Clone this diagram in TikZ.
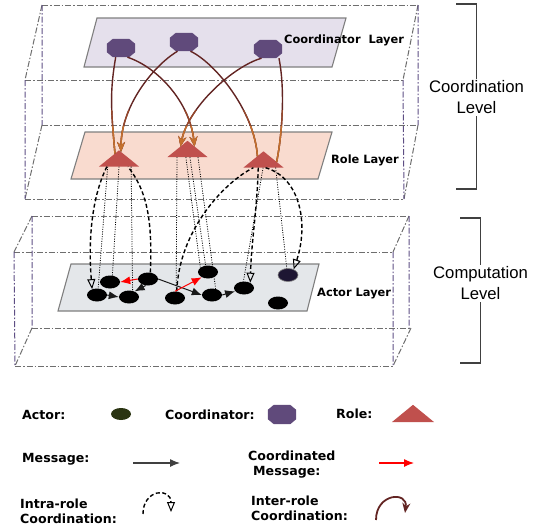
\documentclass[tikz,border=0pt]{standalone}
\usepackage{fontspec}
\setmainfont{DejaVu Sans}
\newfontfamily\levelfont{Liberation Sans}
\usetikzlibrary{shapes.geometric,arrows.meta,calc}

\definecolor{coordcol}{HTML}{604A7B}
\definecolor{rolecol}{HTML}{C0504D}
\definecolor{coordplane}{HTML}{E5E0EC}
\definecolor{roleplane}{HTML}{F9DBCF}
\definecolor{actorplane}{HTML}{E4E7EA}
\definecolor{planeline}{HTML}{7F7F7F}
\definecolor{boxgray}{HTML}{6E6E6E}
\definecolor{boxpurple}{HTML}{5E4E84}
\definecolor{interdark}{HTML}{632523}
\definecolor{intermid}{HTML}{96472A}
\definecolor{interlight}{HTML}{C4712E}
\definecolor{legendactor}{HTML}{2A3412}
\definecolor{actordark}{HTML}{1E1633}
\definecolor{msgcol}{HTML}{1A1A1A}

% coordinator -> role curves, drawn once per colour band
\newcommand\intercurves[1]{%
  \draw[inter,#1] (C1.240) .. controls +(-6,35) and +(-4,-45) .. ($(T1.north)!0.2!(T1.south west)$);
  \draw[inter,#1,interhead] (C1.-55) .. controls +(30,10) and +(-5,-45) .. ($(T2.north)!0.35!(T2.south east)$);
  \draw[inter,#1,interhead] (C2.235) .. controls +(-25,15) and +(0,-45) .. ($(T1.north)!0.1!(T1.south east)$);
  \draw[inter,#1] (C2.-55) .. controls +(25,12) and +(-3,-45) .. ($(T3.north)!0.3!(T3.south west)$);
  \draw[inter,#1,interhead] (C3.235) .. controls +(-28,8) and +(8,-40) .. ($(T2.north)!0.35!(T2.south west)$);
  \draw[inter,#1] (C3.-40) .. controls +(6,30) and +(6,-30) .. ($(T3.north)!0.65!(T3.south east)$);
}

\begin{document}
\begin{tikzpicture}[%
    x=1pt,y=-1pt,
    box/.style={draw=boxgray, line width=1, dash pattern=on 6pt off 2pt on 1.5pt off 2pt},
    boxside/.style={box, draw=boxpurple},
    plane/.style={draw=planeline, line width=1.1},
    coord/.style={minimum width=28, minimum height=18, inner sep=0},
    role/.style={minimum width=40, minimum height=16, inner sep=0},
    actor/.style={ellipse, fill=black, minimum width=20, minimum height=13, inner sep=0},
    msg/.style={draw=msgcol, line width=1, -{Latex[length=10pt,width=8pt]}},
    cmsg/.style={msg, draw=red},
    share/.style={line width=0.8, dash pattern=on 1pt off 1.4pt},
    intra/.style={line width=1.4, dash pattern=on 4pt off 2.5pt},
    intrahead/.style={intra, -{Triangle[open,length=10pt,width=8pt,line width=1pt]}},
    inter/.style={line width=1.4},
    interhead/.style={-{Stealth[length=10pt,width=8pt]}},
    layerlabel/.style={font=\bfseries\fontsize{11.4}{13}\selectfont, anchor=west, inner sep=0},
    legendlabel/.style={font=\bfseries\fontsize{12.6}{15}\selectfont, anchor=west, align=left, inner sep=0},
    level/.style={font=\levelfont\fontsize{16.7}{21}\selectfont, align=center, inner sep=2},
    bracket/.style={draw=black!75, line width=1.2}
  ]
    \useasboundingbox (0,0) rectangle (538,525);

    % coordination box
    \draw[box] (42,5) -- (418,5) (42,125) -- (418,125) (25,80) -- (403,80) (25,199) -- (404,199);
    \draw[box] (42,5) -- (25,80) (418,5) -- (403,80) (42,125) -- (25,199) (418,125) -- (404,199);
    \draw[boxside] (42,5) -- (42,125) (418,5) -- (418,125) (25,80) -- (25,199) (403,80) -- (404,199);
    % computation box
    \draw[box] (32,216) -- (409,216) (32,328) -- (411,328) (14,252) -- (393,252) (15,366) -- (393,366);
    \draw[box] (32,216) -- (14,252) (409,216) -- (393,252) (32,328) -- (15,366) (411,328) -- (393,366);
    \draw[boxside] (32,216) -- (32,328) (409,216) -- (409,328) (14,252) -- (15,366) (393,252) -- (393,366);

    % layers
    \draw[plane, fill=coordplane] (97,18) -- (346,18) -- (332,67) -- (84,67) -- cycle;
    \draw[plane, fill=roleplane] (85,132) -- (332,132) -- (318,179) -- (71,179) -- cycle;
    \draw[plane, fill=actorplane] (71,264) -- (319,264) -- (307,311) -- (58,311) -- cycle;

    \node[layerlabel] (lcl) at (284,40) {Coordinator\ \ Layer};
    \node[layerlabel] (lrl) at (331,160.5) {Role Layer};
    \node[layerlabel] (lal) at (317,294) {Actor Layer};

    \node[coord] (C1) at (121,48) {};
    \node[coord] (C2) at (184,42) {};
    \node[coord] (C3) at (268,49) {};

    \node[role] (T1) at (119,158.5) {};
    \node[role] (T2) at (187.5,149) {};
    \node[role] (T3) at (263.5,159.5) {};

    \node[actor] (a1) at (97,295) {};
    \node[actor] (a2) at (110,282) {};
    \node[actor] (a3) at (148,279) {};
    \node[actor] (a4) at (129,297) {};
    \node[actor] (a5) at (175,298) {};
    \node[actor] (a6) at (208,272) {};
    \node[actor] (a7) at (212,295) {};
    \node[actor] (a8) at (244,288) {};
    \node[actor, fill=actordark, draw=planeline, line width=0.6] (a9) at (288,275) {};
    \node[actor] (a10) at (278,303) {};

    % legend
    \node[legendlabel] (lactor) at (22,414.5) {Actor:};
    \node[actor, fill=legendactor, minimum height=12] (lact) at (121,414) {};
    \node[legendlabel] (lcoordt) at (165,414.5) {Coordinator:};
    \node[coord, minimum height=19] (lcoord) at (282,414.5) {};
    \node[legendlabel] (lrolet) at (336,414) {Role:};
    \node[role, minimum width=42, minimum height=17] (lrole) at (413,413.5) {};
    \node[legendlabel] (lmsg) at (22,459) {Message:};
    \node[legendlabel] (lcmsg) at (248,465) {Coordinated\\\hspace{5pt}Message:};
    \node[legendlabel] (lintra) at (20,511) {Intra-role\\Coordination:};
    \node[legendlabel] (linter) at (251,508) {Inter-role\\Coordination:};

    \foreach \tri in {T1,T2,T3,lrole}
      \fill[rolecol] (\tri.south west) -- (\tri.south east) -- (\tri.north) -- cycle;
    \foreach \oct in {C1,C2,C3,lcoord}
      \fill[coordcol] ($(\oct.north west)+(6,0)$) -- ($(\oct.north east)+(-6,0)$)
        -- ($(\oct.north east)+(0,5)$) -- ($(\oct.south east)+(0,-5)$)
        -- ($(\oct.south east)+(-6,0)$) -- ($(\oct.south west)+(6,0)$)
        -- ($(\oct.south west)+(0,-5)$) -- ($(\oct.north west)+(0,5)$) -- cycle;

    % role -> actor sharing
    \draw[share] ($(T1.south west)!0.22!(T1.south east)$) -- (a1.80);
    \draw[share] ($(T1.south west)!0.5!(T1.south east)$) -- (a2.70);
    \draw[share] ($(T1.south west)!0.8!(T1.south east)$) -- (a4.60);
    \draw[share] ($(T2.south west)!0.24!(T2.south east)$) -- (a5.80);
    \draw[share] ($(T2.south west)!0.46!(T2.south east)$) -- (a6.150);
    \draw[share] ($(T2.south west)!0.56!(T2.south east)$) -- (a6.110);
    \draw[share] ($(T2.south west)!0.76!(T2.south east)$) -- (a7.60);
    \draw[share] ($(T3.south west)!0.49!(T3.south east)$) -- (a8.95);
    \draw[share] ($(T3.south west)!0.8!(T3.south east)$) -- (a9.100);

    % intra-role coordination
    \draw[intra] (a3.70) .. controls +(2,-50) and +(20,25) .. ($(T1.south west)!0.72!(T1.south east)$);
    \draw[intrahead] ($(T1.south west)!0.2!(T1.south east)$) .. controls +(-15,30) and +(-4,-50) .. (a1.130);
    \draw[intra] (a5.75) .. controls +(2,-60) and +(-30,15) .. ($(T3.south west)!0.25!(T3.south east)$);
    \draw[intrahead] ($(T3.south west)!0.37!(T3.south east)$) .. controls +(-1,40) and +(1,-40) .. (a8.40);
    \draw[intrahead] ($(T3.south west)!0.55!(T3.south east)$) .. controls +(35,10) and +(15,-45) .. (a9.45);

    % inter-role coordination
    \intercurves{interdark}
    \begin{scope}
      \clip (0,110) rectangle (538,200);
      \intercurves{intermid}
    \end{scope}
    \begin{scope}
      \clip (0,126) rectangle (538,200);
      \intercurves{interlight}
    \end{scope}

    % messages
    \draw[msg] (a1.east) -- (a4.west);
    \draw[msg] (a3.250) -- (a4.45);
    \draw[msg] (a3.east) -- (a7.west);
    \draw[msg] (a7.east) -- (a8.200);
    \draw[cmsg] (a3.west) -- (a2.east);
    \draw[cmsg] (a5.north) -- (a6.220);

    % legend symbols
    \coordinate (lmsga) at (133,463);
    \coordinate (lmsgb) at (180,463);
    \draw[msg, draw=black!75, line width=1.2] (lmsga) -- (lmsgb);
    \coordinate (lcmsga) at (379,463);
    \coordinate (lcmsgb) at (414,463);
    \draw[cmsg, line width=1.2] (lcmsga) -- (lcmsgb);
    \coordinate (lintraa) at (143,514);
    \coordinate (lintrab) at (171,512);
    \draw[intrahead] (lintraa) .. controls +(0,-25) and +(0,-25) .. (lintrab);
    \coordinate (lintera) at (376,520);
    \coordinate (linterb) at (405,513);
    \draw[inter, draw=interdark, line width=1.8, interhead] (lintera) .. controls +(0,-27) and +(3,-22) .. (linterb);

    % levels
    \node[level] (clev) at (476.5,97.5) {Coordination\\Level};
    \node[level] (plev) at (480.5,283.5) {Computation\\Level};
    \coordinate (cbtop) at (456,4);
    \coordinate (cbbot) at (456,189);
    \coordinate (pbtop) at (460,218);
    \coordinate (pbbot) at (460,363);
    \draw[bracket] (cbtop) -| (clev.north);
    \draw[bracket] (cbbot) -| (clev.south);
    \draw[bracket] (pbtop) -| (plev.north);
    \draw[bracket] (pbbot) -| (plev.south);
\end{tikzpicture}
\end{document}
